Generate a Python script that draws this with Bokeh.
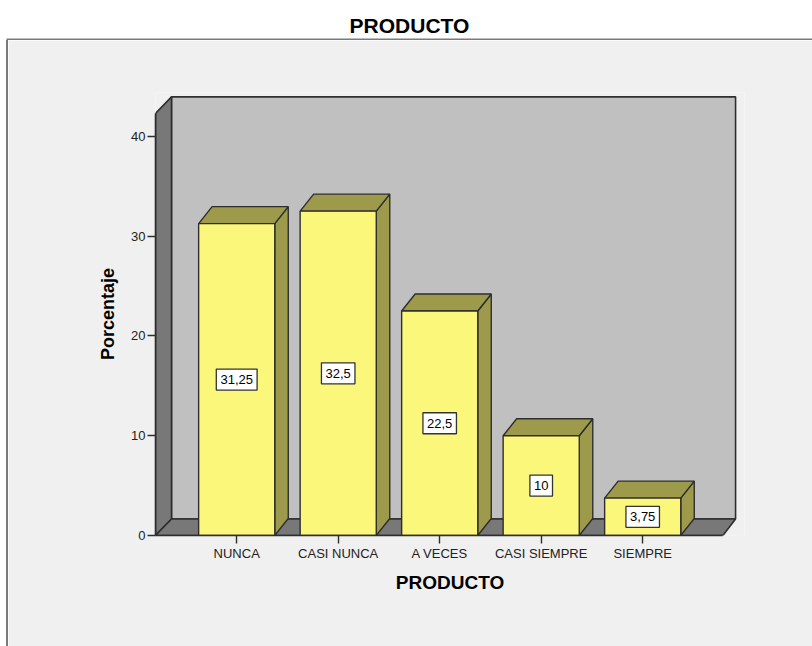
from bokeh.plotting import figure
from bokeh.layouts import column, row
from bokeh.models import Range1d, ColumnDataSource, FixedTicker, Div
from bokeh.embed import file_html
from bokeh.resources import INLINE

# ---- data ----
categories = ["NUNCA", "CASI NUNCA", "A VECES", "CASI SIEMPRE", "SIEMPRE"]
percentages = [31.25, 32.5, 22.5, 10, 3.75]
value_labels = ["31,25", "32,5", "22,5", "10", "3,75"]
y_ticks = [0, 10, 20, 30, 40]
chart_title = "PRODUCTO"

# ---- page geometry ----
W, H = 812, 646
TOP_PAD = 40        # white strip above the gray chart panel
LEFT_PAD = 8        # white strip + border line left of the panel
LINE_W = 2          # panel border line thickness
FRAME_LEFT, FRAME_BOTTOM = 155, 535   # page coordinates of the plot frame
FRAME_W, FRAME_H = 589, 443
PX_X = 101.5   # pixels per category step
PX_Y = 9.98    # pixels per percent
X0 = -0.8
X_END = X0 + FRAME_W / PX_X
Y_END = FRAME_H / PX_Y

DX_W, DY_W = 16 / PX_X, 16.5 / PX_Y   # wall depth
DX_B, DY_B = 13.5 / PX_X, 17 / PX_Y   # bar depth
BAR_W = 0.75
WALL_TOP = 42.3
BACK_RIGHT = 4.915
FLOOR_RIGHT = 4.79

FONT = "Liberation Sans"
EDGE = "#2e2e2e"
YELLOW = "#fbf77a"
OLIVE = "#9e9a4b"
WALL = "#787878"
BACK = "#c0c0c0"
PANEL = "#f0f0f0"
PANEL_LINE = "#7a7a7a"

# ---- title strip (white, with the panel's top border as its frame) ----
top = figure(width=W, height=TOP_PAD, output_backend="svg", toolbar_location=None,
             x_axis_location=None, y_axis_location=None, title=chart_title,
             min_border_left=LEFT_PAD - LINE_W, min_border_right=0,
             min_border_top=TOP_PAD - LINE_W, min_border_bottom=0)
top.border_fill_color = "white"
top.background_fill_color = PANEL_LINE
top.outline_line_color = None
top.grid.visible = False
top.title.align = "center"
top.title.offset = 4
top.title.standoff = 3
top.title.text_font = FONT
top.title.text_font_size = "21px"
top.title.text_font_style = "bold"
top.title.text_color = "black"

# ---- left strip: white margin plus the panel's left border line ----
side = Div(text="", width=LEFT_PAD, height=H - TOP_PAD, margin=(0, 0, 0, 0),
           styles={"background": "linear-gradient(to right, #ffffff 0px, #ffffff %dpx, %s %dpx, %s %dpx)"
                   % (LEFT_PAD - LINE_W, PANEL_LINE, LEFT_PAD - LINE_W, PANEL_LINE, LEFT_PAD),
                   "padding": "0px", "margin": "0px"})

# ---- main chart ----
MW, MH = W - LEFT_PAD, H - TOP_PAD
p = figure(width=MW, height=MH, output_backend="svg", toolbar_location=None,
           x_range=Range1d(X0, X_END), y_range=Range1d(0, Y_END),
           min_border_left=FRAME_LEFT - LEFT_PAD,
           min_border_right=W - FRAME_LEFT - FRAME_W,
           min_border_top=FRAME_BOTTOM - FRAME_H - TOP_PAD,
           min_border_bottom=H - FRAME_BOTTOM)
p.border_fill_color = PANEL
p.background_fill_color = PANEL
p.outline_line_color = None
p.grid.visible = False

# back wall
p.quad(left=[X0 + DX_W], right=[BACK_RIGHT], bottom=[DY_W], top=[WALL_TOP + DY_W],
       fill_color=BACK, line_color=EDGE, line_width=1.6)
# left wall
p.patch([X0, X0, X0 + DX_W, X0 + DX_W], [0, WALL_TOP, WALL_TOP + DY_W, DY_W],
        fill_color=WALL, line_color=EDGE, line_width=1.6)
# floor
p.patch([X0, FLOOR_RIGHT, BACK_RIGHT, X0 + DX_W], [0, 0, DY_W, DY_W],
        fill_color=WALL, line_color=EDGE, line_width=1.6)

# bars
xs = list(range(len(categories)))
lefts = [x - BAR_W / 2 for x in xs]
rights = [x + BAR_W / 2 for x in xs]
side_xs = [[r, r, r + DX_B, r + DX_B] for r in rights]
side_ys = [[0, v, v + DY_B, DY_B] for v in percentages]
top_xs = [[l, r, r + DX_B, l + DX_B] for l, r in zip(lefts, rights)]
top_ys = [[v, v, v + DY_B, v + DY_B] for v in percentages]

p.patches(side_xs, side_ys, fill_color=OLIVE, line_color=EDGE, line_width=1.4)
p.patches(top_xs, top_ys, fill_color=OLIVE, line_color=EDGE, line_width=1.4)
p.quad(left=lefts, right=rights, bottom=0, top=percentages,
       fill_color=YELLOW, line_color=EDGE, line_width=1.4)

# value labels (white boxes with dark border)
box_w = [7.3 * sum(ch.isdigit() for ch in t) + 3.6 * t.count(",") + 8 for t in value_labels]
src = ColumnDataSource(dict(x=xs, y=[v / 2 for v in percentages], t=value_labels, w=box_w))
p.rect(x="x", y="y", width="w", height=21, width_units="screen", height_units="screen",
       source=src, fill_color="white", line_color="#333333", line_width=1.3)
p.text(x="x", y="y", text="t", source=src, text_align="center", text_baseline="middle",
       text_font={"value": FONT}, text_font_size={"value": "13px"}, text_color="black")

# axes
xa = p.xaxis[0]
xa.ticker = FixedTicker(ticks=xs)
xa.major_label_overrides = {i: c for i, c in enumerate(categories)}
xa.bounds = (X0, FLOOR_RIGHT)
xa.minor_tick_line_color = None
xa.major_tick_in = 0
xa.major_tick_out = 8
xa.major_label_standoff = 2
xa.axis_line_color = EDGE
xa.axis_line_width = 1.6
xa.major_tick_line_color = EDGE
xa.major_tick_line_width = 1.4
xa.major_label_text_font = FONT
xa.major_label_text_font_size = "13px"
xa.major_label_text_color = "#222222"
xa.axis_label = "PRODUCTO"
xa.axis_label_text_font = FONT
xa.axis_label_text_font_size = "19px"
xa.axis_label_text_font_style = "bold"
xa.axis_label_text_color = "black"
xa.axis_label_standoff = 8

ya = p.yaxis[0]
ya.ticker = FixedTicker(ticks=y_ticks)
ya.bounds = (0, WALL_TOP)
ya.minor_tick_line_color = None
ya.major_tick_in = 0
ya.major_tick_out = 8
ya.major_label_standoff = 2
ya.axis_line_color = EDGE
ya.axis_line_width = 1.6
ya.major_tick_line_color = EDGE
ya.major_tick_line_width = 1.4
ya.major_label_text_font = FONT
ya.major_label_text_font_size = "13px"
ya.major_label_text_color = "#222222"
ya.axis_label = "Porcentaje"
ya.axis_label_text_font = FONT
ya.axis_label_text_font_size = "18px"
ya.axis_label_text_font_style = "bold"
ya.axis_label_text_color = "black"
ya.axis_label_standoff = 10

layout = column(top, row(side, p, spacing=0), spacing=0)
open("out.html", "w").write(file_html(layout, INLINE))
